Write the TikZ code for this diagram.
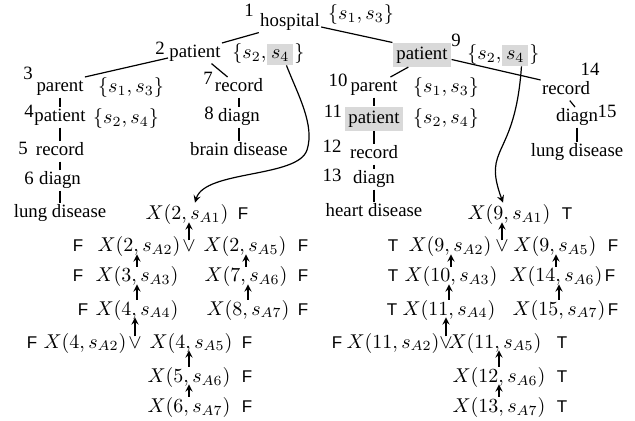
\documentclass[tikz,border=0pt]{standalone}
\usepackage[no-math]{fontspec}
\setmainfont{Liberation Serif}[Scale=0.94]
\setsansfont{Liberation Sans}
\begin{document}
\begin{tikzpicture}[
    x=0.5pt, y=-0.5pt,
    lbl/.style={anchor=base, inner sep=0.5pt, text height=6.8pt, text depth=2.1pt},
    hl/.style={lbl, fill=black!15, inner xsep=1.8pt, inner ysep=1.5pt},
    mth/.style={anchor=base, inner sep=0pt},
    grey4/.style={anchor=base west, inner xsep=2pt, inner ysep=1pt, fill=black!15, text height=6.3pt, text depth=2pt},
    tf/.style={anchor=base, inner sep=0pt, font=\sffamily\fontsize{8.5}{10}\selectfont},
    tline/.style={line width=0.6pt},
    uparrow/.style={->, >=stealth, line width=0.6pt, shorten >=-1.5pt},
    curvearrow/.style={->, >=stealth, line width=0.6pt},
]
\useasboundingbox (0,0) rectangle (635,421);

% document tree
\node[lbl] (n1) at (249,17) {1};
\node[lbl] (hosp) at (290,27) {hospital};
\node[mth] (set1) at (361,20) {$\{s_1,s_3\}$};

\node[lbl] (n2) at (160,55) {2};
\node[lbl] (pat2) at (195,58) {patient};
\node[mth, anchor=base west] (set2) at (232,59) {$\{s_2,$};
\node[grey4] (s4a) at (set2.base east) {$s_4$};
\node[mth, anchor=base west] (set2r) at (s4a.base east) {$\}$};
\node[lbl] (n3) at (28,80) {3};
\node[lbl] (par3) at (60,92) {parent};
\node[mth] (set3) at (131,93) {$\{s_1,s_3\}$};
\node[lbl] (n4) at (29,118) {4};
\node[lbl] (pat4) at (60,122) {patient};
\node[mth] (set4) at (126,124) {$\{s_2,s_4\}$};
\node[lbl] (n5) at (23,155) {5};
\node[lbl] (rec5) at (60,156) {record};
\node[lbl] (n6) at (29,185) {6};
\node[lbl] (diag6) at (60,185) {diagn};
\node[lbl] (lung6) at (60,218) {lung disease};
\node[lbl] (n7) at (208,85) {7};
\node[lbl] (rec7) at (239,92) {record};
\node[lbl] (n8) at (209,120) {8};
\node[lbl] (diag8) at (239,122) {diagn};
\node[lbl] (brain8) at (239,156) {brain disease};

\node[hl] (pat9) at (422,59.5) {patient};
\node[lbl] (n9) at (456,47) {9};
\node[mth, anchor=base west] (set9) at (467,60) {$\{s_2,$};
\node[grey4] (s4b) at (set9.base east) {$s_4$};
\node[mth, anchor=base west] (set9r) at (s4b.base east) {$\}$};
\node[lbl] (n10) at (338,87) {10};
\node[lbl] (par10) at (374,92) {parent};
\node[mth] (set10) at (446,93) {$\{s_1,s_3\}$};
\node[lbl] (n11) at (333,118) {11};
\node[hl] (pat11) at (374,123.5) {patient};
\node[mth] (set11) at (446,124) {$\{s_2,s_4\}$};
\node[lbl] (n12) at (332,153) {12};
\node[lbl] (rec12) at (374,159) {record};
\node[lbl] (n13) at (332,182) {13};
\node[lbl] (diag13) at (374,184) {diagn};
\node[lbl] (heart13) at (374,217) {heart disease};
\node[lbl] (n14) at (590,76) {14};
\node[lbl] (rec14) at (566,95) {record};
\node[lbl] (diag15) at (577,122) {diagn};
\node[lbl] (n15) at (607,118) {15};
\node[lbl] (lung15) at (577,157) {lung disease};

\draw[tline] (hosp.south west) -- (pat2.north east);
\draw[tline] (hosp.base east) -- (pat9.north west);
\draw[tline] (pat2.base west) -- (par3.north east);
\draw[tline] (pat2.-32) -- (rec7.138);
\draw[tline] (par3) -- (pat4);
\draw[tline] (pat4) -- (rec5);
\draw[tline] (rec5) -- (diag6);
\draw[tline] (diag6) -- (lung6);
\draw[tline] (rec7) -- (diag8);
\draw[tline] (diag8) -- (brain8);
\draw[tline] (pat9.222) -- (par10.32);
\draw[tline] (pat9.base east) -- (rec14.north west);
\draw[tline] (rec14.-70) -- (diag15.101);
\draw[tline] (diag15) -- (lung15);
\draw[tline] (par10) -- (pat11);
\draw[tline] (pat11) -- (rec12);
\draw[tline] (rec12) -- (diag13);
\draw[tline] (diag13) -- (heart13);

% evaluation, left
\node[mth] (xa1) at (187,220) {$X(2,s_{A1})$};
\node[tf] (fa1) at (243,220) {F};
\node[tf] (fa2) at (78,252) {F};
\node[mth] (xa2) at (139,252) {$X(2,s_{A2})$};
\node[mth] (ora) at (189,252) {$\vee$};
\node[mth] (xa5) at (245,252) {$X(2,s_{A5})$};
\node[tf] (fa5) at (303,252) {F};
\node[tf] (fa3) at (78,282) {F};
\node[mth] (xa3) at (137,282) {$X(3,s_{A3})$};
\node[mth] (xa6) at (246,282) {$X(7,s_{A6})$};
\node[tf] (fa6) at (303,282) {F};
\node[tf] (fa4) at (83,315) {F};
\node[mth] (xa4) at (137,315) {$X(4,s_{A4})$};
\node[mth] (xa7) at (248,315) {$X(8,s_{A7})$};
\node[tf] (fa7) at (303,315) {F};
\node[tf] (fb2) at (32,348) {F};
\node[mth] (xb2) at (85,348) {$X(4,s_{A2})$};
\node[mth] (orb) at (135,348) {$\vee$};
\node[mth] (xb5) at (191,348) {$X(4,s_{A5})$};
\node[tf] (fb5) at (247,348) {F};
\node[mth] (xb6) at (189,382) {$X(5,s_{A6})$};
\node[tf] (fb6) at (247,382) {F};
\node[mth] (xb7) at (189,412) {$X(6,s_{A7})$};
\node[tf] (fb7) at (247,412) {F};

% evaluation, right
\node[mth] (xc1) at (509,220) {$X(9,s_{A1})$};
\node[tf] (tc1) at (567,220) {T};
\node[tf] (tc2) at (393,252) {T};
\node[mth] (xc2) at (450,252) {$X(9,s_{A2})$};
\node[mth] (orc) at (502,252) {$\vee$};
\node[mth] (xc5) at (555,252) {$X(9,s_{A5})$};
\node[tf] (fc5) at (613,252) {F};
\node[tf] (tc3) at (393,282) {T};
\node[mth] (xc3) at (451,282) {$X(10,s_{A3})$};
\node[mth] (xc6) at (556,282) {$X(14,s_{A6})$};
\node[tf] (fc6) at (610,282) {F};
\node[tf] (tc4) at (392,315) {T};
\node[mth] (xc4) at (449,315) {$X(11,s_{A4})$};
\node[mth] (xc7) at (559,315) {$X(15,s_{A7})$};
\node[tf] (fc7) at (613,315) {F};
\node[tf] (fd2) at (337,348) {F};
\node[mth] (xd2) at (393,348) {$X(11,s_{A2})$};
\node[mth] (ord) at (446,348) {$\vee$};
\node[mth] (xd5) at (495,348) {$X(11,s_{A5})$};
\node[tf] (td5) at (562,348) {T};
\node[mth] (xd6) at (499,382) {$X(12,s_{A6})$};
\node[tf] (td6) at (562,382) {T};
\node[mth] (xd7) at (499,412) {$X(13,s_{A7})$};
\node[tf] (td7) at (562,412) {T};

\draw[uparrow] (ora.north) -- (ora.north |- xa1.south);
\draw[uparrow] (xa3.north) -- (xa3.north |- xa2.south);
\draw[uparrow] (xa6.north) -- (xa6.north |- xa5.south);
\draw[uparrow] (xa4.north) -- (xa4.north |- xa3.south);
\draw[uparrow] (xa7.north) -- (xa7.north |- xa6.south);
\draw[uparrow] (orb.north) -- (orb.north |- xa4.south);
\draw[uparrow] (xb6.north) -- (xb6.north |- xb5.south);
\draw[uparrow] (xb7.north) -- (xb7.north |- xb6.south);

\draw[uparrow] (orc.north) -- (orc.north |- xc1.south);
\draw[uparrow] (xc3.north) -- (xc3.north |- xc2.south);
\draw[uparrow] (xc6.north) -- (xc6.north |- xc5.south);
\draw[uparrow] (xc4.north) -- (xc4.north |- xc3.south);
\draw[uparrow] (xc7.north) -- (xc7.north |- xc6.south);
\draw[uparrow] (ord.north) -- (ord.north |- xc4.south);
\draw[uparrow] (xd6.north) -- (xd6.north |- xd5.south);
\draw[uparrow] (xd7.north) -- (xd7.north |- xd6.south);

\draw[curvearrow] (s4a.-60) .. controls (298,95) and (315,125) .. (307,150)
    .. controls (298,178) and (205,170) .. ([xshift=4pt,yshift=1pt]xa1.north);
\draw[curvearrow] (s4b.-60) .. controls (515,160) and (482,145) .. ([xshift=-3pt,yshift=1pt]xc1.north);
\end{tikzpicture}
\end{document}
